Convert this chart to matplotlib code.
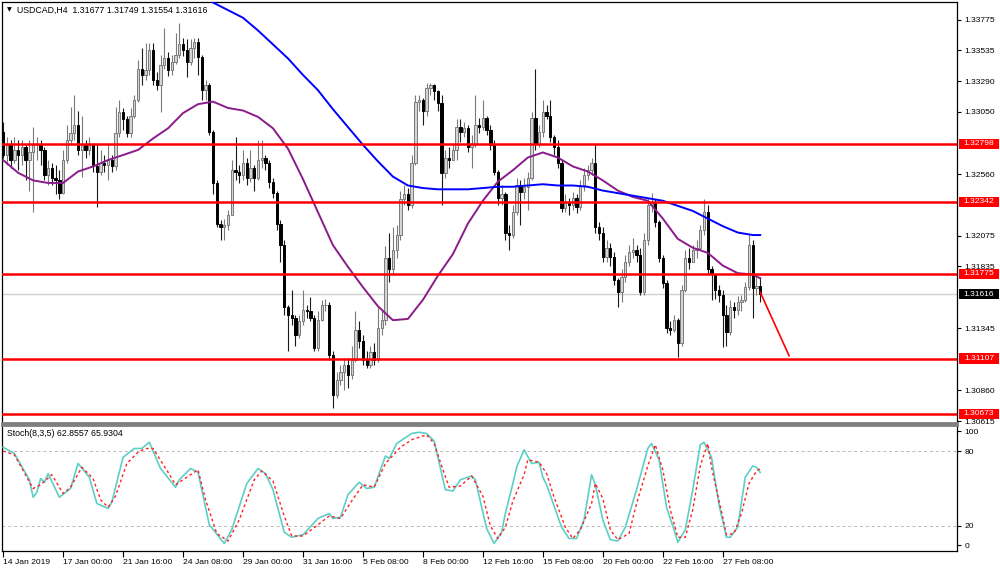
import numpy as np
import matplotlib
matplotlib.use("Agg")
import matplotlib.pyplot as plt
import matplotlib.transforms as mtransforms
from matplotlib.patches import Rectangle

plt.rcParams['font.family'] = ['Liberation Sans', 'DejaVu Sans']

# ---------------- data ----------------
symbol_title = "USDCAD,H4  1.31677 1.31749 1.31554 1.31616"
stoch_title = "Stoch(8,3,5) 62.8557 65.9304"

first_open = 1.3289
close = [
    1.3271, 1.3279, 1.3267, 1.3275, 1.3271, 1.3277, 1.3267, 1.3273, 1.3279, 1.3280,
    1.3275, 1.3255, 1.3261, 1.3253, 1.3251, 1.3241, 1.3267, 1.3283, 1.3288, 1.3295,
    1.3275, 1.3279, 1.3275, 1.3279, 1.3262, 1.3258, 1.3265, 1.3263, 1.3267, 1.3262,
    1.3288, 1.3305, 1.3299, 1.3288, 1.3302, 1.3314, 1.3339, 1.3334, 1.3338, 1.3354,
    1.3330, 1.3326, 1.3342, 1.3347, 1.3338, 1.3344, 1.3350, 1.3358, 1.3354, 1.3344,
    1.3355, 1.3360, 1.3348, 1.3322, 1.3326, 1.3289, 1.3249, 1.3217, 1.3214, 1.3216,
    1.3224, 1.3259, 1.3258, 1.3255, 1.3265, 1.3253, 1.3261, 1.3253, 1.3267, 1.3269,
    1.3265, 1.3250, 1.3241, 1.3217, 1.3200, 1.3151, 1.3145, 1.3143, 1.3129, 1.3140,
    1.3149, 1.3148, 1.3143, 1.3119, 1.3141, 1.3153, 1.3153, 1.3114, 1.3082, 1.3094,
    1.3100, 1.3106, 1.3098, 1.3110, 1.3133, 1.3125, 1.3110, 1.3106, 1.3116, 1.3110,
    1.3135, 1.3141, 1.3190, 1.3181, 1.3196, 1.3208, 1.3236, 1.3240, 1.3232, 1.3265,
    1.3313, 1.3314, 1.3306, 1.3324, 1.3326, 1.3321, 1.3312, 1.3257, 1.3269, 1.3267,
    1.3275, 1.3293, 1.3289, 1.3292, 1.3277, 1.3280, 1.3295, 1.3293, 1.3300, 1.3291,
    1.3279, 1.3258, 1.3237, 1.3240, 1.3210, 1.3208, 1.3226, 1.3247, 1.3242, 1.3246,
    1.3253, 1.3300, 1.3280, 1.3289, 1.3305, 1.3302, 1.3285, 1.3277, 1.3265, 1.3229,
    1.3233, 1.3232, 1.3237, 1.3230, 1.3247, 1.3255, 1.3259, 1.3265, 1.3214, 1.3210,
    1.3191, 1.3198, 1.3191, 1.3173, 1.3163, 1.3175, 1.3187, 1.3195, 1.3196, 1.3192,
    1.3163, 1.3204, 1.3232, 1.3233, 1.3218, 1.3190, 1.3170, 1.3135, 1.3133, 1.3141,
    1.3123, 1.3165, 1.3190, 1.3187, 1.3196, 1.3198, 1.3212, 1.3226, 1.3181, 1.3177,
    1.3165, 1.3161, 1.3145, 1.3132, 1.3151, 1.3149, 1.3155, 1.3157, 1.3167, 1.3200,
    1.3166, 1.31677, 1.31616,
]
high = [
    1.3297, 1.3285, 1.3283, 1.3285, 1.3283, 1.3283, 1.3279, 1.3283, 1.3293, 1.3285,
    1.3283, 1.3277, 1.3267, 1.3265, 1.3263, 1.3259, 1.3275, 1.3295, 1.3309, 1.3318,
    1.3306, 1.3302, 1.3283, 1.3285, 1.3279, 1.3280, 1.3275, 1.3271, 1.3280, 1.3271,
    1.3309, 1.3314, 1.3308, 1.3302, 1.3308, 1.3318, 1.3346, 1.3355, 1.3359, 1.3359,
    1.3359, 1.3336, 1.3350, 1.3371, 1.3352, 1.3350, 1.3367, 1.3375, 1.3363, 1.3362,
    1.3362, 1.3363, 1.3363, 1.3350, 1.3330, 1.3328, 1.3291, 1.3251, 1.3220, 1.3221,
    1.3228, 1.3267, 1.3285, 1.3263, 1.3275, 1.3269, 1.3275, 1.3263, 1.3283, 1.3283,
    1.3271, 1.3267, 1.3253, 1.3243, 1.3220, 1.3204, 1.3153, 1.3165, 1.3145, 1.3145,
    1.3165, 1.3153, 1.3159, 1.3145, 1.3148, 1.3157, 1.3158, 1.3155, 1.3117, 1.3100,
    1.3106, 1.3111, 1.3111, 1.3121, 1.3148, 1.3140, 1.3129, 1.3117, 1.3121, 1.3123,
    1.3151, 1.3149, 1.3199, 1.3210, 1.3214, 1.3216, 1.3243, 1.3247, 1.3245, 1.3271,
    1.3318, 1.3318, 1.3316, 1.3328, 1.3328, 1.3327, 1.3322, 1.3318, 1.3275, 1.3277,
    1.3279, 1.3299, 1.3299, 1.3297, 1.3295, 1.3287, 1.3318, 1.3300, 1.3314, 1.3302,
    1.3295, 1.3283, 1.3259, 1.3247, 1.3242, 1.3216, 1.3232, 1.3253, 1.3251, 1.3253,
    1.3258, 1.3305, 1.3339, 1.3295, 1.3314, 1.3310, 1.3314, 1.3287, 1.3283, 1.3267,
    1.3240, 1.3237, 1.3242, 1.3240, 1.3251, 1.3261, 1.3263, 1.3269, 1.3280, 1.3218,
    1.3214, 1.3204, 1.3202, 1.3195, 1.3174, 1.3181, 1.3192, 1.3200, 1.3206, 1.3200,
    1.3198, 1.3210, 1.3237, 1.3241, 1.3236, 1.3220, 1.3192, 1.3173, 1.3140, 1.3145,
    1.3143, 1.3169, 1.3196, 1.3198, 1.3200, 1.3204, 1.3216, 1.3236, 1.3232, 1.3184,
    1.3177, 1.3169, 1.3165, 1.3153, 1.3157, 1.3155, 1.3160, 1.3161, 1.3171, 1.3208,
    1.3204, 1.3177, 1.31749,
]
low = [
    1.3269, 1.3263, 1.3261, 1.3265, 1.3259, 1.3263, 1.3251, 1.3243, 1.3226, 1.3267,
    1.3263, 1.3251, 1.3247, 1.3247, 1.3240, 1.3236, 1.3240, 1.3265, 1.3279, 1.3283,
    1.3271, 1.3254, 1.3269, 1.3271, 1.3258, 1.3230, 1.3255, 1.3258, 1.3251, 1.3258,
    1.3259, 1.3285, 1.3291, 1.3285, 1.3285, 1.3300, 1.3313, 1.3326, 1.3330, 1.3334,
    1.3326, 1.3322, 1.3305, 1.3339, 1.3333, 1.3334, 1.3343, 1.3347, 1.3349, 1.3332,
    1.3342, 1.3347, 1.3334, 1.3314, 1.3314, 1.3287, 1.3240, 1.3214, 1.3204, 1.3204,
    1.3212, 1.3224, 1.3251, 1.3249, 1.3251, 1.3247, 1.3250, 1.3243, 1.3251, 1.3261,
    1.3259, 1.3245, 1.3237, 1.3212, 1.3187, 1.3145, 1.3117, 1.3137, 1.3121, 1.3127,
    1.3137, 1.3143, 1.3140, 1.3117, 1.3117, 1.3140, 1.3148, 1.3110, 1.3072, 1.3080,
    1.3090, 1.3086, 1.3088, 1.3095, 1.3108, 1.3119, 1.3106, 1.3103, 1.3103, 1.3106,
    1.3108, 1.3129, 1.3137, 1.3171, 1.3177, 1.3190, 1.3204, 1.3232, 1.3228, 1.3229,
    1.3263, 1.3306, 1.3295, 1.3302, 1.3318, 1.3314, 1.3306, 1.3232, 1.3253, 1.3261,
    1.3267, 1.3267, 1.3281, 1.3285, 1.3273, 1.3261, 1.3277, 1.3288, 1.3291, 1.3287,
    1.3275, 1.3255, 1.3232, 1.3232, 1.3204, 1.3196, 1.3206, 1.3224, 1.3216, 1.3236,
    1.3228, 1.3251, 1.3275, 1.3277, 1.3285, 1.3299, 1.3281, 1.3271, 1.3261, 1.3226,
    1.3226, 1.3224, 1.3228, 1.3225, 1.3228, 1.3243, 1.3251, 1.3255, 1.3210, 1.3204,
    1.3187, 1.3187, 1.3184, 1.3169, 1.3151, 1.3155, 1.3171, 1.3184, 1.3190, 1.3187,
    1.3161, 1.3161, 1.3200, 1.3226, 1.3214, 1.3187, 1.3166, 1.3131, 1.3129, 1.3132,
    1.3112, 1.3121, 1.3163, 1.3181, 1.3187, 1.3190, 1.3196, 1.3208, 1.3177, 1.3157,
    1.3158, 1.3155, 1.3120, 1.3121, 1.3129, 1.3143, 1.3145, 1.3148, 1.3155, 1.3165,
    1.3143, 1.3161, 1.31554,
]

ma_idx = [0, 4, 8, 12, 16, 20, 24, 28, 32, 36, 40, 44, 48, 52, 56, 60, 64, 68, 72, 76,
          80, 84, 88, 92, 96, 100, 104, 108, 112, 116, 120, 124, 128, 132, 136, 140,
          144, 148, 152, 156, 160, 164, 168, 172, 176, 180, 184, 188, 192, 196, 200, 202]
ma_purple = [1.3267, 1.3257, 1.3251, 1.3249, 1.3249, 1.3258, 1.3262, 1.3267, 1.3271,
             1.3275, 1.3284, 1.3292, 1.3304, 1.3311, 1.3313, 1.3308, 1.3306, 1.3301,
             1.3292, 1.3276, 1.3252, 1.3226, 1.3200, 1.3183, 1.3167, 1.3152, 1.3141,
             1.3142, 1.3157, 1.3176, 1.3193, 1.3217, 1.3235, 1.3250, 1.3259, 1.3269,
             1.3273, 1.3269, 1.3262, 1.3258, 1.3251, 1.3243, 1.3238, 1.3235, 1.3221,
             1.3205, 1.3198, 1.3194, 1.3184, 1.3178, 1.3177, 1.3174]

blue_idx = [52, 56, 60, 64, 68, 72, 76, 80, 84, 88, 92, 96, 100, 104, 108, 112, 116,
            120, 124, 128, 132, 136, 140, 144, 148, 152, 156, 160, 164, 168, 172, 176,
            180, 184, 188, 192, 196, 200, 202]
ma_blue = [1.3398, 1.3391, 1.3385, 1.3379, 1.3369, 1.3358, 1.3347, 1.3334, 1.3322,
           1.3307, 1.3293, 1.3279, 1.3266, 1.3254, 1.3247, 1.3245, 1.3244, 1.3244,
           1.3244, 1.3245, 1.3246, 1.3246, 1.3247, 1.3248, 1.3247, 1.3247, 1.3246,
           1.3243, 1.3241, 1.3239, 1.3237, 1.3235, 1.3231, 1.3227, 1.3221, 1.3215,
           1.3210, 1.3208, 1.3208]

levels = [1.32798, 1.32342, 1.31775, 1.31107, 1.30673]
current_price = 1.31616
trend_idx = [202, 209.7]
trend_price = [1.3163, 1.3113]

price_ticks = [1.33775, 1.33535, 1.33290, 1.33050, 1.32560,
               1.32075, 1.31835, 1.31345, 1.30860, 1.30615]

k_idx = [0, 3, 7, 8, 9, 10, 11, 12, 15, 18, 20, 23, 25, 28, 29, 32, 35, 37, 39, 42,
         46, 47, 50, 52, 55, 59, 61, 65, 68, 70, 72, 75, 77, 80, 84, 87, 88, 90, 92,
         95, 97, 99, 102, 103, 105, 107, 109, 111, 113, 115, 118, 120, 122, 125, 126,
         129, 131, 133, 134, 136, 137, 139, 141, 143, 144, 145, 149, 151, 153, 155,
         157, 158, 160, 162, 164, 166, 169, 172, 173, 175, 177, 179, 180, 182, 184,
         186, 187, 189, 191, 193, 194, 196, 198, 200, 201, 202]
k_val = [83, 78, 57, 43, 47, 58, 55, 62, 43, 50, 70, 59, 38, 34, 39, 75, 82, 82, 87, 66,
         51, 57, 66, 63, 21, 6, 17, 54, 66, 62, 49, 15, 11, 13, 26, 30, 26, 27, 45,
         55, 50, 51, 76, 74, 86, 90, 94, 95, 94, 88, 49, 48, 57, 60, 57,
         18, 6, 15, 30, 54, 67, 81, 70, 71, 59, 53, 19, 10, 10, 25,
         61, 53, 25, 9, 8, 19, 49, 82, 86, 73, 35, 17, 7, 17, 49,
         85, 87, 75, 37, 11, 11, 19, 59, 68, 67, 62.86]

d_idx = [0, 3, 8, 10, 13, 16, 18, 21, 24, 26, 28, 30, 33, 36, 38, 40, 44, 46, 49, 52,
         54, 57, 60, 63, 67, 69, 72, 75, 77, 80, 84, 87, 90, 93, 96, 99, 102, 106, 109,
         113, 115, 117, 119, 122, 125, 128, 130, 132, 134, 136, 139, 140, 143, 145,
         147, 150, 152, 154, 157, 158, 160, 162, 164, 167, 169, 172, 174, 176, 178,
         180, 182, 184, 186, 188, 189, 192, 193, 195, 197, 199, 201, 202]
d_val = [80, 77, 50, 53, 61, 46, 51, 67, 58, 41, 35, 44, 70, 79, 82, 82, 63, 53, 59, 65,
         41, 14, 8, 25, 57, 64, 56, 28, 12, 12, 21, 28, 26, 40, 53, 51, 70, 83, 89,
         93, 86, 68, 51, 52, 60, 44, 20, 10, 19, 40, 61, 73, 71, 62,
         43, 19, 10, 17, 38, 54, 42, 17, 9, 14, 38, 68, 85, 65, 33,
         11, 11, 33, 68, 86, 67, 27, 13, 14, 30, 54, 64, 65.93]

date_idx = [0, 16, 32, 48, 64, 80, 96, 112, 128, 144, 160, 176, 192]
date_labels = ["14 Jan 2019", "17 Jan 00:00", "21 Jan 16:00", "24 Jan 08:00",
               "29 Jan 00:00", "31 Jan 16:00", "5 Feb 08:00", "8 Feb 00:00",
               "12 Feb 16:00", "15 Feb 08:00", "20 Feb 00:00", "22 Feb 16:00",
               "27 Feb 08:00"]

# ---------------- figure ----------------
W, H = 1000, 571
fig = plt.figure(figsize=(W / 100, H / 100), dpi=100)
fig.patch.set_facecolor("white")

def fx(px):
    return px / W

def fy(py):
    return 1 - py / H

ax = fig.add_axes([fx(2), fy(423), fx(957) - fx(2), fy(2) - fy(423)])
ax2 = fig.add_axes([fx(2), fy(551), fx(957) - fx(2), fy(425) - fy(551)])

FS = 6.1
xmin, xmax = -0.3, 254.5
ymin, ymax = 1.30601, 1.33914

# candles
c = np.array(close)
o = np.concatenate([[first_open], c[:-1]])
h = np.array(high)
l = np.array(low)
x = np.arange(len(c))
up = c >= o
ax.vlines(x[up], l[up], h[up], color="#7a7a7a", lw=0.8, zorder=3)
ax.vlines(x[~up], l[~up], h[~up], color="#1a1a1a", lw=0.8, zorder=3)
body_lo = np.minimum(o, c)
body_h = np.maximum(np.abs(c - o), 0.00003)
ax.bar(x[up], body_h[up], bottom=body_lo[up], width=0.62, facecolor="#d4d4d4",
       edgecolor="#7a7a7a", linewidth=0.7, zorder=4)
ax.bar(x[~up], body_h[~up], bottom=body_lo[~up], width=0.62, facecolor="black",
       edgecolor="black", linewidth=0.7, zorder=4)

# moving averages
ax.plot(ma_idx, ma_purple, color="#8B1A8B", lw=1.4, zorder=5)
ax.plot(blue_idx, ma_blue, color="#0000FF", lw=1.4, zorder=5)

# levels
ax.axhline(current_price, color="#cfcfcf", lw=1.0, zorder=1)
for lv in levels:
    ax.axhline(lv, color="#FF0000", lw=1.8, zorder=6)
ax.plot(trend_idx, trend_price, color="#FF0000", lw=1.2, zorder=6)

ax.set_xlim(xmin, xmax)
ax.set_ylim(ymin, ymax)
ax.set_xticks([])
ax.yaxis.tick_right()
ax.set_yticks(price_ticks)
ax.set_yticklabels([f"{p:.5f}" for p in price_ticks])
ax.tick_params(axis="y", length=3, width=0.8, pad=2.5, labelsize=FS, colors="black")
for s in ["left", "top", "right"]:
    ax.spines[s].set_color("black")
    ax.spines[s].set_linewidth(0.9)
ax.spines["bottom"].set_color("#7f7f7f")
ax.spines["bottom"].set_linewidth(2.0)

# label boxes on the price axis
trans = mtransforms.blended_transform_factory(ax.transAxes, ax.transData)
ax_w_px = 955.0
box_h = 10.5 * (ymax - ymin) / 421.0
box_x0 = (959 - 2) / ax_w_px
box_w = 40 / ax_w_px
box_xc = box_x0 + box_w / 2
for lv, col in [(lv, "#FF0000") for lv in levels] + [(current_price, "black")]:
    ax.add_patch(Rectangle((box_x0, lv - box_h / 2), box_w, box_h, transform=trans,
                           facecolor=col, edgecolor="none", clip_on=False, zorder=9))
    ax.text(box_xc, lv, f"{lv:.5f}", transform=trans, ha="center", va="center",
            fontsize=FS, color="white", zorder=10, clip_on=False)

# titles
fig.text(fx(7), fy(10), "\u25BC", fontsize=4.5, color="black", va="center", ha="left",
         family="DejaVu Sans")
fig.text(fx(17), fy(10), symbol_title, fontsize=FS + 0.2, color="black", va="center", ha="left")
fig.text(fx(7), fy(433), stoch_title, fontsize=FS + 0.2, color="black", va="center", ha="left")

# stochastic
ax2.plot(k_idx, k_val, color="#5ccfc6", lw=1.2, zorder=4)
ax2.plot(d_idx, d_val, color="#FF2020", lw=1.0, ls=(0, (2, 2)), zorder=5)
for lv in (80, 20):
    ax2.axhline(lv, color="#b8b8b8", lw=0.7, ls=(0, (3, 3)), zorder=1)
ax2.set_xlim(xmin, xmax)
ax2.set_ylim(0, 100.8)
ax2.yaxis.tick_right()
ax2.set_yticks([4.8, 20, 80, 96])
ax2.set_yticklabels(["0", "20", "80", "100"])
ax2.tick_params(axis="y", length=3, width=0.8, pad=2.5, labelsize=FS, colors="black")
ax2.set_xticks(date_idx)
ax2.set_xticklabels(date_labels, ha="left")
ax2.tick_params(axis="x", length=4, width=0.8, pad=1.5, labelsize=FS, colors="black")
for s in ["left", "bottom", "right"]:
    ax2.spines[s].set_color("black")
    ax2.spines[s].set_linewidth(0.9)
ax2.spines["top"].set_color("#7f7f7f")
ax2.spines["top"].set_linewidth(2.0)

fig.savefig("out.png", dpi=100, facecolor="white")
